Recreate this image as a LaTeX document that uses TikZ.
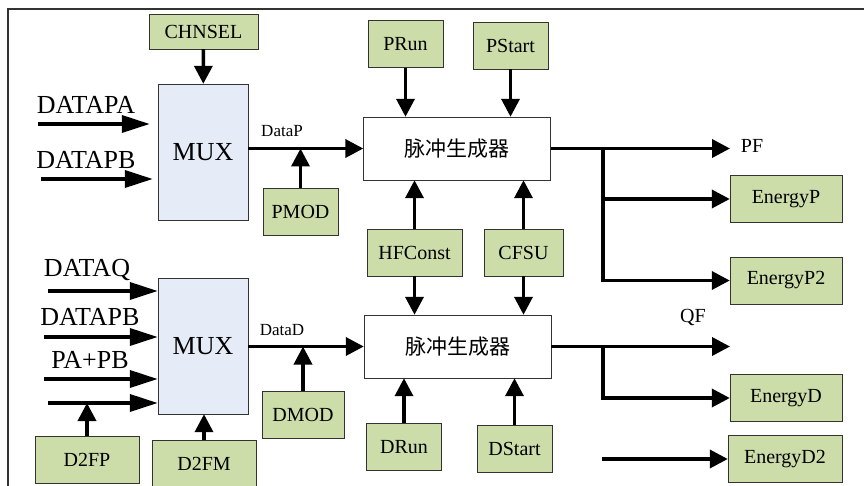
\documentclass[tikz,border=0pt]{standalone}
\usepackage{fontspec}
\setmainfont{Liberation Serif}
\newfontfamily\cjk{Noto Sans CJK SC}
\usetikzlibrary{arrows.meta}
\definecolor{boxgreen}{RGB}{205,221,170}
\definecolor{muxblue}{RGB}{230,236,247}
\begin{document}
\begin{tikzpicture}[x=1pt,y=-1pt,
reg/.style={draw=black!80,fill=boxgreen,minimum width=#1,minimum height=47pt,inner sep=0pt,font=\fontsize{20}{20}\selectfont},
reg/.default=75pt,
mux/.style={draw=black!80,fill=muxblue,minimum width=90pt,minimum height=136pt,inner sep=0pt,font=\fontsize{26}{26}\selectfont},
gen/.style={draw=black!80,fill=white,minimum width=187pt,minimum height=63pt,inner sep=0pt,font=\cjk\fontsize{21}{21}\selectfont},
lbl/.style={inner sep=0pt,font=\fontsize{26}{26}\selectfont},
sig/.style={inner sep=0pt,font=\fontsize{#1}{#1}\selectfont},
sig/.default=20,
arr/.style={line width=3.6pt,-{Triangle[length=18pt,width=18pt]}},
inarr/.style={line width=3.6pt,-{Triangle[length=28pt,width=17pt]}}]
\useasboundingbox(0,0)rectangle(864,486);
\draw[line width=1.5pt,black!80](8,486)--(8,9)--(864,9);
\node[reg=109pt,minimum height=35pt](chnsel)at(203.5,31.5){CHNSEL};
\node[mux](mux1)at(203,152){MUX};
\node[mux](mux2)at(203,346){MUX};
\node[gen](gen1)at(457,148.5){脉冲生成器};
\node[gen](gen2)at(457.5,346.5){脉冲生成器};
\node[reg](pmod)at(300.5,211.5){PMOD};
\node[reg=82pt](dmod)at(303,414.5){DMOD};
\node[reg](prun)at(405.5,44){PRun};
\node[reg](pstart)at(510.5,45.5){PStart};
\node[reg=95pt](hfc)at(414.5,252.5){HFConst};
\node[reg=79pt](cfsu)at(523.5,252.5){CFSU};
\node[reg](drun)at(404,447){DRun};
\node[reg](dstart)at(514.5,448.5){DStart};
\node[reg=104pt](d2fp)at(87,459.5){D2FP};
\node[reg=104pt](d2fm)at(204,463.5){D2FM};
\node[reg=112pt](energyp)at(786,199){EnergyP};
\node[reg=112pt](energyp2)at(786,280.5){EnergyP2};
\node[reg=112pt](energyd)at(786,398){EnergyD};
\node[reg=114pt](energyd2)at(785,459){EnergyD2};
\node[lbl](dpa)at(86,105){DATAPA};
\node[lbl](dpb)at(86,160){DATAPB};
\node[lbl](dq)at(87,270){DATAQ};
\node[lbl](dpb2)at(90,317){DATAPB};
\node[lbl](papb)at(90,360){PA+PB};
\node[sig=17](datap)at(282,131){DataP};
\node[sig=17](datad)at(282,330){DataD};
\node[sig](pf)at(752,146){PF};
\node[sig](qf)at(693,317){QF};
\coordinate(ina)at(38,124);\coordinate(inb)at(41,179);
\coordinate(inq)at(48,291);\coordinate(inb2)at(44,337);
\coordinate(inab)at(44,379);\coordinate(inx)at(48,403);
\coordinate(pfend)at(730,148.5);\coordinate(qfend)at(730,346.5);
\coordinate(jp)at(603,148.5);\coordinate(jd)at(603,346.5);
\coordinate(ed2in)at(602,459);
\draw[inarr](ina)--([xshift=-8pt]ina-|mux1.west);
\draw[inarr](inb)--([xshift=-5pt]inb-|mux1.west);
\draw[inarr](inq)--(inq-|mux2.west);
\draw[inarr](inb2)--(inb2-|mux2.west);
\draw[inarr](inab)--(inab-|mux2.west);
\draw[inarr](inx)--(inx-|mux2.west);
\draw[arr](chnsel)--(mux1);
\draw[arr](mux1.east|-gen1.west)--(gen1.west);
\draw[arr](mux2.east|-gen2.west)--(gen2.west);
\draw[arr](pmod)--(pmod|-gen1.west);
\draw[arr](dmod)--(dmod|-gen2.west);
\draw[arr](prun)--(prun|-gen1.north);
\draw[arr](pstart)--(pstart|-gen1.north);
\draw[arr](hfc)--(hfc|-gen1.south);
\draw[arr](hfc)--(hfc|-gen2.north);
\draw[arr](cfsu)--(cfsu|-gen1.south);
\draw[arr](cfsu)--(cfsu|-gen2.north);
\draw[arr](drun)--(drun|-gen2.south);
\draw[arr](dstart)--(dstart|-gen2.south);
\draw[arr](d2fp)--(d2fp|-inx);
\draw[arr](d2fm)--(d2fm|-mux2.south);
\draw[arr](gen1.east)--(pfend);
\draw[arr](gen2.east)--(qfend);
\draw[arr](jp)|-(energyp2.west);
\draw[arr](jp|-energyp.west)--(energyp.west);
\draw[arr](jd)|-(energyd.west);
\draw[arr](ed2in)--(energyd2.west);
\end{tikzpicture}
\end{document}
